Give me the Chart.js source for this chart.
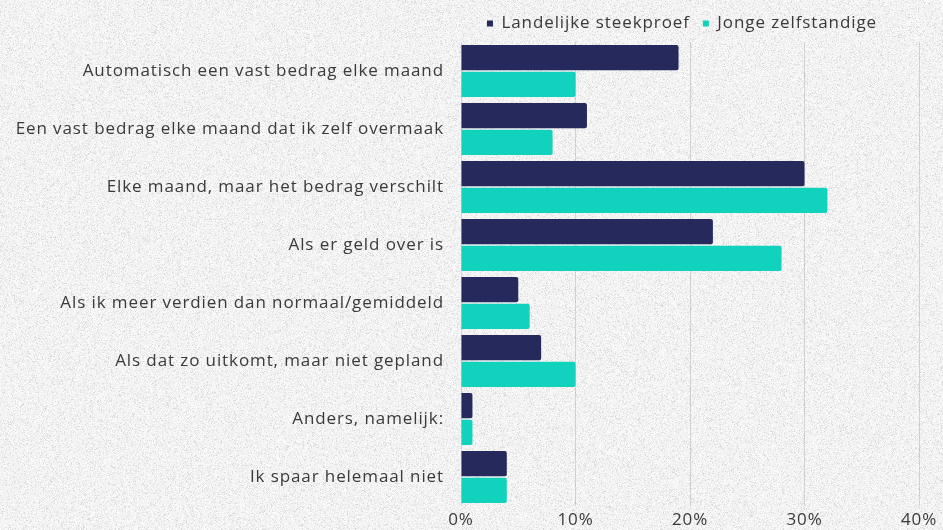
<!DOCTYPE html>
<html>
<head>
<meta charset="utf-8">
<script src="https://cdn.jsdelivr.net/npm/chart.js@4"></script>
<style>
  html, body { margin: 0; padding: 0; background: #eeeeee; }
  #wrap { width: 943px; height: 530px; position: relative; }
</style>
</head>
<body>
<div id="wrap"><canvas id="chart" width="943" height="530"></canvas></div>
<script>
const categories = [
  'Automatisch een vast bedrag elke maand',
  'Een vast bedrag elke maand dat ik zelf overmaak',
  'Elke maand, maar het bedrag verschilt',
  'Als er geld over is',
  'Als ik meer verdien dan normaal/gemiddeld',
  'Als dat zo uitkomt, maar niet gepland',
  'Anders, namelijk:',
  'Ik spaar helemaal niet'
];
const landelijk = [19, 11, 30, 22, 5, 7, 1, 4];
const jonge = [10, 8, 32, 28, 6, 10, 1, 4];
const seriesNames = ['Landelijke steekproef', 'Jonge zelfstandige'];
const xTicks = [0, 10, 20, 30, 40];

const FONT = 'Open Sans';
const TEXT = '#3a3a3a';

// grainy paper background (fixed seed, same every run)
function makePaper(w, h) {
  const c = document.createElement('canvas');
  c.width = w; c.height = h;
  const g = c.getContext('2d');
  const img = g.createImageData(w, h);
  let seed = 4242;
  const rnd = () => { seed = (seed * 16807) % 2147483647; return seed / 2147483647; };
  for (let i = 0; i < w * h; i++) {
    const r = rnd();
    let v = 242;
    if (r < 0.2) v = 216 + Math.floor(rnd() * 22);
    else if (r < 0.45) v = 251;
    img.data[i * 4] = v;
    img.data[i * 4 + 1] = v;
    img.data[i * 4 + 2] = v;
    img.data[i * 4 + 3] = 255;
  }
  g.putImageData(img, 0, 0);
  return c;
}
let paper = null;

const paperTexture = {
  id: 'paperTexture',
  beforeUpdate(chart) { chart.ctx.letterSpacing = '0.9px'; },
  afterLayout(chart) {
    // legend sits centred over the plot area rather than the whole canvas
    const lg = chart.legend;
    const dx = (chart.chartArea.left + chart.chartArea.right) / 2 - 8 - (lg.left + lg.right) / 2;
    lg.left += dx;
    lg.right += dx;
  },
  beforeDraw(chart) {
    const ctx = chart.ctx;
    if (!paper) paper = makePaper(chart.width, chart.height);
    ctx.save();
    ctx.drawImage(paper, 0, 0);
    ctx.restore();
    ctx.letterSpacing = '0.9px';
  }
};

const ctx = document.getElementById('chart').getContext('2d');
new Chart(ctx, {
  type: 'bar',
  data: {
    labels: categories,
    datasets: [{
      label: seriesNames[0],
      data: landelijk,
      backgroundColor: '#26295c',
      borderRadius: 2,
      borderSkipped: 'start',
      barPercentage: 0.95,
      categoryPercentage: 0.92
    }, {
      label: seriesNames[1],
      data: jonge,
      backgroundColor: '#11d2bd',
      borderRadius: 2,
      borderSkipped: 'start',
      barPercentage: 0.95,
      categoryPercentage: 0.92
    }]
  },
  options: {
    indexAxis: 'y',
    responsive: false,
    animation: false,
    layout: { padding: { top: 2, right: 24, bottom: 0, left: 0 } },
    plugins: {
      legend: {
        position: 'top',
        labels: {
          usePointStyle: true,
          pointStyle: 'rect',
          boxWidth: 6,
          boxHeight: 6,
          padding: 13,
          color: TEXT,
          font: { family: FONT, size: 17 }
        }
      },
      tooltip: { enabled: false }
    },
    scales: {
      x: {
        min: 0,
        max: 40,
        afterBuildTicks(axis) { axis.ticks = xTicks.map(v => ({ value: v })); },
        afterFit(axis) { axis.height = 24; },
        grid: { color: 'rgba(150,150,150,0.35)', drawTicks: false },
        border: { display: false },
        ticks: {
          color: TEXT,
          padding: 4,
          font: { family: FONT, size: 17 },
          callback: v => v + '%'
        }
      },
      y: {
        afterFit(axis) { axis.width = 461; },
        grid: { display: false },
        border: { display: false },
        ticks: {
          color: TEXT,
          padding: 9,
          font: { family: FONT, size: 17 }
        }
      }
    }
  },
  plugins: [paperTexture]
});
</script>
</body>
</html>
